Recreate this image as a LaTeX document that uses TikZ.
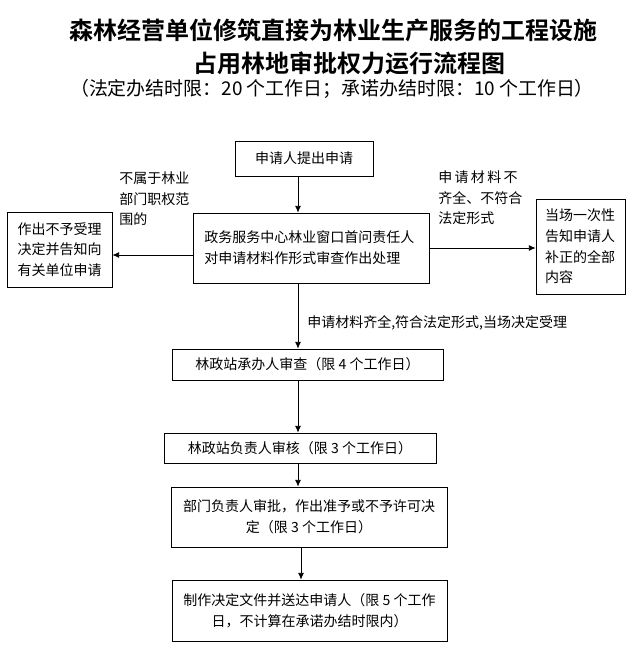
\documentclass[tikz,border=0pt]{standalone}
\usepackage{fontspec}
\setmainfont{Noto Sans CJK SC}[BoldFont={Noto Sans CJK SC Bold}]
\usetikzlibrary{arrows.meta}

\tikzset{
  box/.style={draw, line width=0.6pt, align=center, inner sep=2pt,
    font=\fontsize{10.5}{15.5}\selectfont},
  arr/.style={line width=0.6pt, -{Latex[length=5pt,width=4.5pt]}},
  note/.style={align=left, inner sep=0pt, font=\fontsize{10.5}{15.5}\selectfont}
}

\begin{document}
\begin{tikzpicture}[x=0.75pt, y=-0.75pt]
    \useasboundingbox (0,0) rectangle (633,648);

    % Titolo
    \node[font=\fontsize{18}{22}\selectfont\bfseries] (title1) at (333,30) {森林经营单位修筑直接为林业生产服务的工程设施};
    \node[font=\fontsize{18}{22}\selectfont\bfseries] (title2) at (349,63) {占用林地审批权力运行流程图};
    \node[font=\fontsize{14.2}{17}\selectfont] (subtitle) at (332,89) {（法定办结时限：20 个工作日；承诺办结时限：10 个工作日）};

    % Caselle
    \node[box, minimum width=103.5pt, minimum height=26.25pt] (apply) at (304,158.5) {申请人提出申请};
    \node[box, minimum width=177pt, minimum height=52.5pt, text width=160pt, align=left] (window) at (311,248)
        {政务服务中心林业窗口首问责任人\\对申请材料作形式审查作出处理};
    \node[box, minimum width=78.75pt, minimum height=56.25pt] (reject) at (59.5,249.5)
        {作出不予受理\\决定并告知向\\有关单位申请};
    \node[box, minimum width=66.75pt, minimum height=71.25pt, text width=53pt, align=left] (notify) at (580.5,246.5)
        {当场一次性\\告知申请人\\补正的全部\\内容};
    \node[box, minimum width=203.25pt, minimum height=23.25pt] (review) at (307.5,364.5) {林政站承办人审查（限 4 个工作日）};
    \node[box, minimum width=204pt, minimum height=22.5pt] (check) at (300,448) {林政站负责人审核（限 3 个工作日）};
    \node[box, minimum width=207pt, minimum height=45pt] (approve) at (309,517)
        {部门负责人审批，作出准予或不予许可决\\定（限 3 个工作日）};
    \node[box, minimum width=206.25pt, minimum height=45.75pt] (deliver) at (309.5,610.5)
        {制作决定文件并送达申请人（限 5 个工作\\日，不计算在承诺办结时限内）};

    % Annotazioni
    \node[note, anchor=west] (outside) at (119,199) {不属于林业\\部门职权范\\围的};
    \node[note, anchor=west] (incomplete) at (438,198) {申\,请\,材\,料\,不\\齐全、不符合\\法定形式};
    \node[note, anchor=west] (accepted) at (307,323) {申请材料齐全,符合法定形式,当场决定受理};

    % Frecce
    \coordinate (axis) at (298,0);
    \coordinate (axisb) at (301,0);
    \draw[arr] (apply.south -| axis) -- (window.north -| axis);
    \draw[arr] ([yshift=-5.25pt]window.west) -- ([yshift=-5.25pt]window.west -| reject.east);
    \draw[arr] (window.east) -- (window.east -| notify.west);
    \draw[arr] (window.south -| axis) -- (review.north -| axis);
    \draw[arr] (review.south -| axis) -- (check.north -| axis);
    \draw[arr] (check.south -| axis) -- (approve.north -| axis);
    \draw[arr] (approve.south -| axisb) -- (deliver.north -| axisb);
\end{tikzpicture}
\end{document}
